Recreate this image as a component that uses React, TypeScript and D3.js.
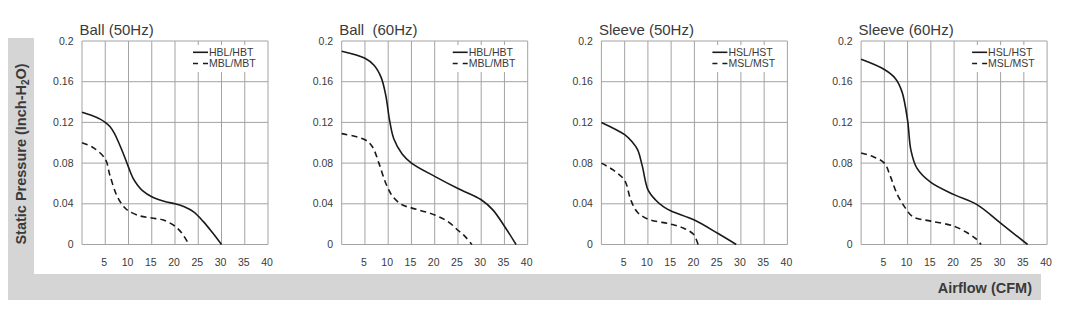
import React from 'react';
import * as d3 from 'd3';

// Fan P-Q curves
const panelTitles = ['Ball (50Hz)', 'Ball  (60Hz)', 'Sleeve (50Hz)', 'Sleeve (60Hz)'];
const highLabels = ['HBL/HBT', 'HBL/HBT', 'HSL/HST', 'HSL/HST'];
const medLabels = ['MBL/MBT', 'MBL/MBT', 'MSL/MST', 'MSL/MST'];

const xTicks = [5, 10, 15, 20, 25, 30, 35, 40];
const xGrid = [0, 5, 10, 15, 20, 25, 30, 35, 40];
const yTicks = [0, 0.04, 0.08, 0.12, 0.16, 0.2];
const yTickLabels = ['0', '0.04', '0.08', '0.12', '0.16', '0.2'];

const ball50High = [[0, 0.13], [2, 0.127], [4, 0.123], [5, 0.12], [6, 0.116], [7, 0.109], [8, 0.099], [9, 0.088], [10, 0.076], [11, 0.065], [12, 0.058], [13, 0.053], [15, 0.047], [18, 0.042], [20, 0.04], [22, 0.037], [24, 0.032], [26, 0.023], [28, 0.012], [30, 0]];
const ball50Med = [[0, 0.1], [2.5, 0.095], [5, 0.084], [6, 0.068], [7.5, 0.048], [9, 0.037], [10, 0.033], [12.5, 0.028], [15, 0.026], [17.5, 0.024], [20, 0.018], [21.5, 0.011], [23, 0]];
const ball60High = [[0, 0.19], [5, 0.183], [7, 0.176], [8.5, 0.164], [9.5, 0.146], [10.3, 0.122], [11.2, 0.104], [13, 0.089], [15, 0.08], [20, 0.067], [25, 0.055], [30, 0.044], [32.5, 0.034], [35, 0.018], [37.5, 0]];
const ball60Med = [[0, 0.109], [5, 0.103], [6.6, 0.096], [8, 0.08], [9.5, 0.06], [11, 0.047], [13, 0.039], [15, 0.036], [20, 0.029], [23, 0.022], [25, 0.014], [26.5, 0.008], [28, 0]];
const sleeve50High = [[0, 0.12], [5, 0.108], [6.6, 0.101], [7.8, 0.093], [8.8, 0.077], [10, 0.054], [11.6, 0.044], [13.4, 0.037], [15, 0.033], [20, 0.024], [25, 0.011], [29, 0]];
const sleeve50Med = [[0, 0.08], [2.6, 0.073], [5, 0.063], [6.3, 0.044], [7.7, 0.032], [10, 0.025], [15, 0.02], [17.7, 0.016], [19.8, 0.01], [20.8, 0]];
const sleeve60High = [[0, 0.182], [5, 0.172], [7.4, 0.163], [8.8, 0.15], [10, 0.122], [10.7, 0.093], [12, 0.075], [15, 0.061], [20, 0.049], [25, 0.039], [30, 0.021], [35.8, 0]];
const sleeve60Med = [[0, 0.09], [2.7, 0.086], [5, 0.08], [6.3, 0.067], [7.7, 0.05], [9.5, 0.036], [11.2, 0.027], [15, 0.023], [20, 0.018], [23, 0.011], [24.6, 0.006], [25.8, 0]];

const highSeries = [ball50High, ball60High, sleeve50High, sleeve60High];
const medSeries = [ball50Med, ball60Med, sleeve50Med, sleeve60Med];

const W = 1066;
const H = 316;
const font = 'Liberation Sans, Arial, Helvetica, sans-serif';
const gridColor = '#a3a3a3';
const textColor = '#3a3a3a';
const lineColor = '#1a1a1a';

const plotW = 186;
const plotTop = 41;
const plotBottom = 244.5;

const Panel = ({ i }: { i: number }) => {
  const left = 82 + i * 259.7;
  const x = d3.scaleLinear().domain([0, 40]).range([left, left + plotW]);
  const y = d3.scaleLinear().domain([0, 0.2]).range([plotBottom, plotTop]);
  const line = d3.line<number[]>()
    .x(d => x(d[0]))
    .y(d => y(d[1]))
    .curve(d3.curveCatmullRom.alpha(0.5));
  const legX = left + 111;

  return (
    <g>
      <text x={left - 2.5} y={35} fontSize={15} fill={textColor} style={{ whiteSpace: 'pre' }}>
        {panelTitles[i]}
      </text>
      {xGrid.map(v => (
        <line key={'vx' + v} x1={x(v)} x2={x(v)} y1={plotTop} y2={plotBottom} stroke={gridColor} strokeWidth={1} />
      ))}
      {yTicks.map(v => (
        <line key={'hy' + v} x1={left} x2={left + plotW} y1={y(v)} y2={y(v)} stroke={gridColor} strokeWidth={1} />
      ))}
      {yTicks.map((v, k) => (
        <text key={'yl' + v} x={left - 8.5} y={y(v)} dy="0.35em" textAnchor="end" fontSize={10.5} fill={textColor}>
          {yTickLabels[k]}
        </text>
      ))}
      {xTicks.map(v => (
        <text key={'xl' + v} x={x(v) - 1} y={266} textAnchor="middle" fontSize={10.5} fill={textColor}>
          {v}
        </text>
      ))}
      <path d={line(highSeries[i]) || ''} fill="none" stroke={lineColor} strokeWidth={1.6} />
      <path d={line(medSeries[i]) || ''} fill="none" stroke={lineColor} strokeWidth={1.6} strokeDasharray="6,4" />
      {/* legend */}
      <rect x={legX - 4} y={45} width={70} height={27} fill="#fff" />
      <line x1={legX} x2={legX + 15} y1={52.3} y2={52.3} stroke={lineColor} strokeWidth={1.6} />
      <text x={legX + 16} y={56} fontSize={10.5} fill={textColor}>{highLabels[i]}</text>
      <line x1={legX} x2={legX + 15} y1={63.5} y2={63.5} stroke={lineColor} strokeWidth={1.6} strokeDasharray="5,5" />
      <text x={legX + 16} y={67.2} fontSize={10.5} fill={textColor}>{medLabels[i]}</text>
    </g>
  );
};

export default function App() {
  return (
    <svg width={W} height={H} style={{ position: 'absolute', left: 0, top: 0, display: 'block', background: '#fff' }} fontFamily={font}>
      {/* gray L-shaped frame */}
      <rect x={8} y={38} width={26} height={262} fill="#d5d5d5" />
      <rect x={8} y={274} width={1033} height={26} fill="#d5d5d5" />
      <text
        transform="translate(26,154) rotate(-90)"
        textAnchor="middle"
        fontSize={14.5}
        fontWeight="bold"
        fill={textColor}
      >
        Static Pressure (Inch-H<tspan fontSize={10} dy={3}>2</tspan><tspan dy={-3}>O)</tspan>
      </text>
      <text x={1032} y={293} textAnchor="end" fontSize={14.5} fontWeight="bold" fill={textColor}>
        Airflow (CFM)
      </text>
      {panelTitles.map((_, i) => (
        <Panel key={i} i={i} />
      ))}
    </svg>
  );
}
